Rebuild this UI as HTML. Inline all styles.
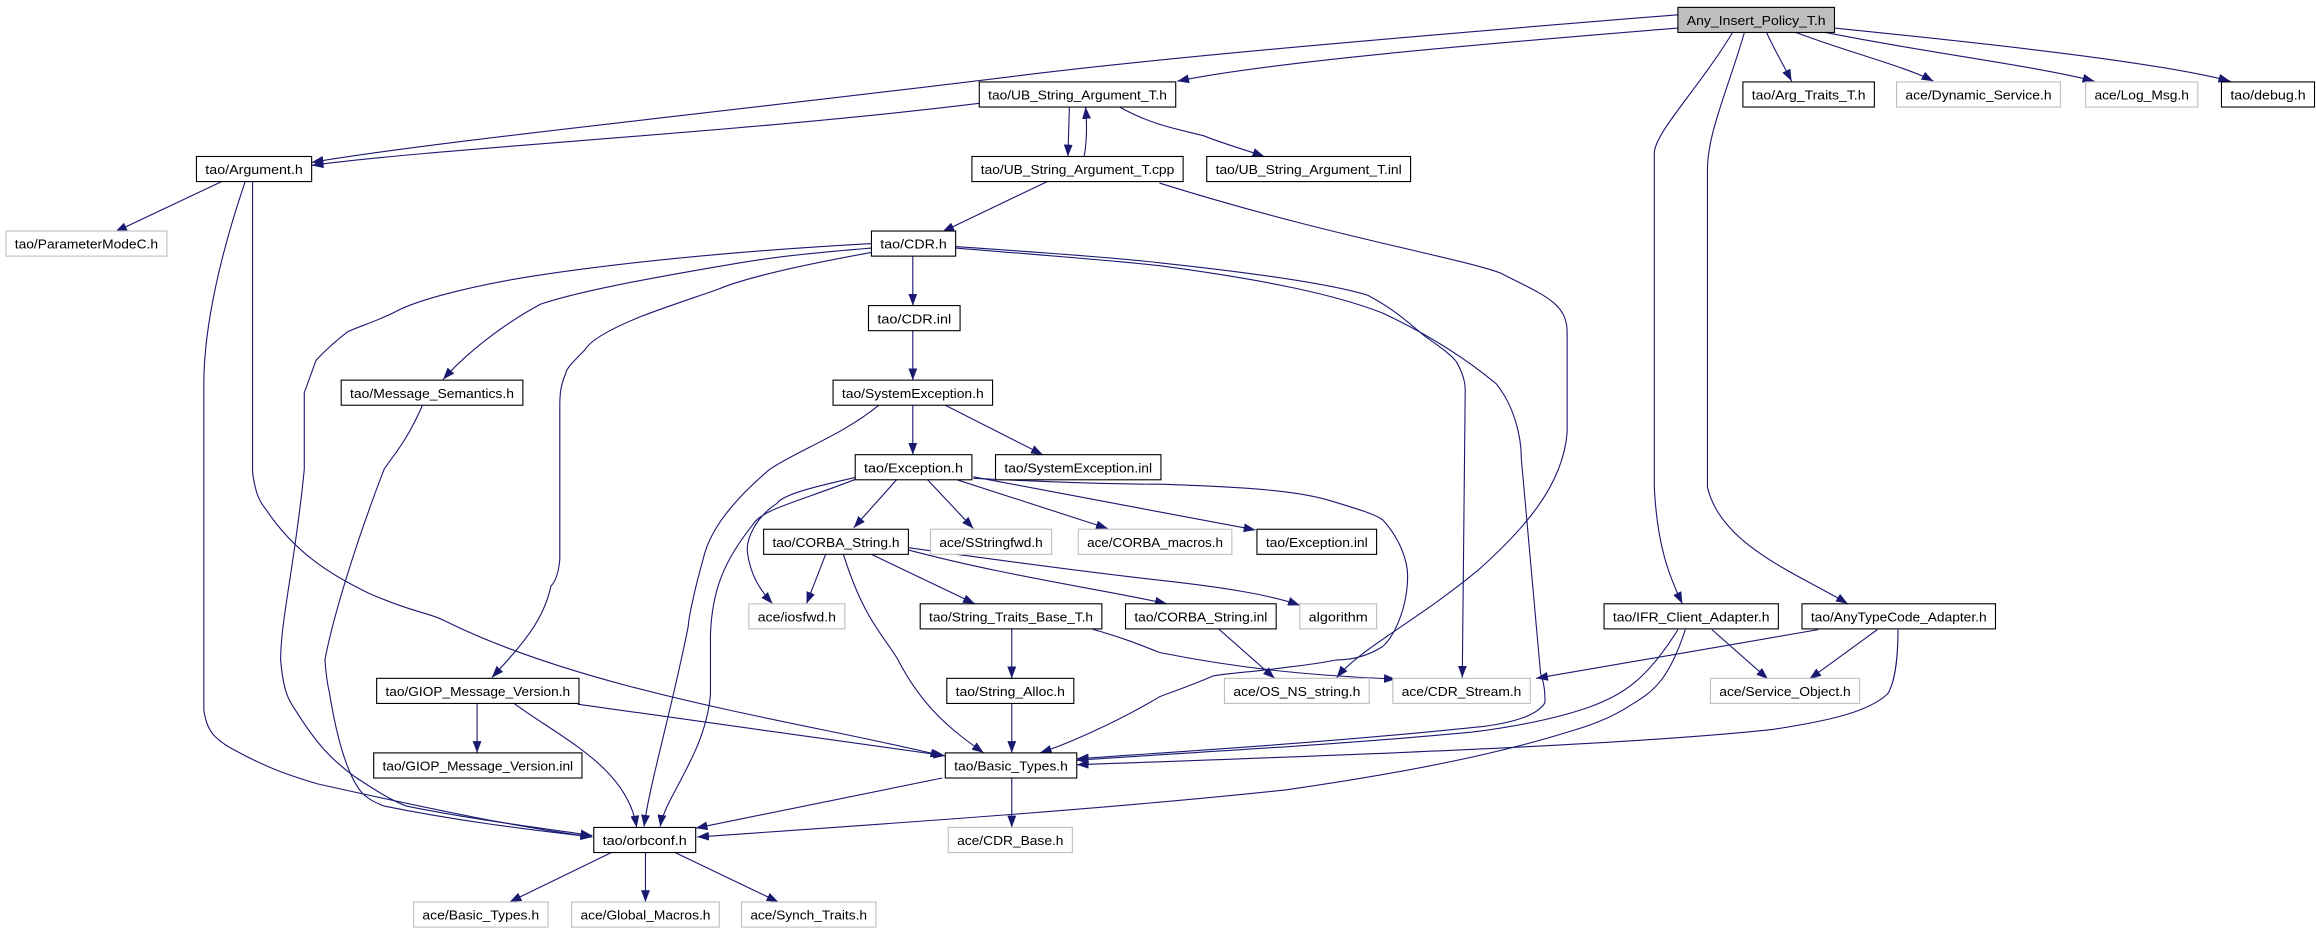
<!DOCTYPE html>
<html><head><meta charset="utf-8"><style>
html,body{margin:0;padding:0;background:#fff;}
svg{display:block;}
text{font-family:"Liberation Sans",sans-serif;font-size:9px;fill:#000;}
.e{fill:none;stroke:#191970;stroke-width:0.75;}
.n{fill:#fff;stroke:#000;stroke-width:0.75;}
.g{fill:#fff;stroke:#bfbfbf;stroke-width:0.75;}
</style></head><body>
<svg width="2316" height="933" viewBox="0 0 1568 632" preserveAspectRatio="none" xmlns="http://www.w3.org/2000/svg">
<defs><marker id="a" markerUnits="userSpaceOnUse" markerWidth="8" markerHeight="6" refX="8" refY="3" orient="auto"><path d="M0,0 L8,3 L0,6 z" fill="#191970"/></marker></defs>
<g class="e" marker-end="url(#a)">
<path d="M1136,10 C950,25 800,38 700,50 C500,75 300,95 211,110"/>
<path d="M663,70 C500,90 300,100 211,112"/>
<path d="M1136,19 C1000,30 860,42 797,55"/>
<path d="M1196,22 C1202,35 1208,45 1213,55"/>
<path d="M1216,22 C1250,35 1290,45 1309,55"/>
<path d="M1236,22 C1300,35 1380,45 1418,55"/>
<path d="M1242,19 C1350,30 1460,42 1510,55"/>
<path d="M1173,22 C1150,60 1120,90 1120,104 L1120,330 C1122,370 1130,390 1139,409"/>
<path d="M1181,22 C1170,60 1156,90 1156,115 L1156,330 C1165,370 1220,390 1251,409"/>
<path d="M724,72.5 L723,106"/>
<path d="M734,106 C736,95 736,85 735,72.5"/>
<path d="M758,72.5 C780,85 800,88 815,92 C830,98 845,102 856,106"/>
<path d="M709,123 L638,157"/>
<path d="M785,124 C900,160 990,175 1016,185 C1045,200 1061,205 1061,225 L1061,293 C1058,330 1030,360 1001,386 C960,420 920,440 905,459"/>
<path d="M150,123 L78,157"/>
<path d="M166,123 C150,170 138,220 138,260 L138,481 C140,495 145,500 155,506 C180,520 195,525 215,531 C300,550 350,560 401,567"/>
<path d="M171,123 L171,320 C173,335 176,340 180,345 C200,375 225,390 250,402 C280,415 290,415 300,420 C400,470 550,490 638,512"/>
<path d="M590,165 C500,170 420,178 361,187 C310,195 280,205 270,210 C255,218 240,222 235,225 C222,235 218,240 214,244 L206,266 L206,318 C200,380 190,420 190,447 C192,470 196,475 200,481 C215,505 225,515 240,526 C255,536 265,542 275,546 C320,555 360,560 401,566"/>
<path d="M590,168 C540,172 520,175 501,178 C430,190 390,198 366,206 C340,220 315,240 300,257"/>
<path d="M590,171 C540,180 505,188 486,196 C460,205 445,210 435,214 C415,222 400,230 396,237 C388,245 383,250 383,253 C380,260 379,265 379,275 L379,379 C378,390 375,395 373,397 C368,420 355,435 333,459"/>
<path d="M618,173.5 L618,207"/>
<path d="M647,167 C720,172 760,175 785,178 C850,185 900,192 926,200 C945,210 955,220 965,228 C975,235 982,240 986,245 C990,252 992,258 992,264 L990,459"/>
<path d="M647,168 C720,174 760,177 785,180 C860,190 905,200 936,212 C970,228 995,245 1013,260 C1025,275 1030,295 1030,311 L1043,456 C1046,465 1046,470 1046,476 C1040,486 1020,490 1005,492 C900,503 800,509 729,514"/>
<path d="M618,224 L618,257.5"/>
<path d="M286,274.5 C275,300 265,310 260,318 C240,370 225,420 220,447 C221,460 222,465 223,469 C228,500 235,525 245,537 C250,542 255,544 260,546 C310,556 350,561 401,567"/>
<path d="M595,274.5 C570,295 540,305 521,318 C495,340 480,360 476,379 C470,400 466,420 466,424 C455,480 440,530 436,560"/>
<path d="M618,274.5 L618,308"/>
<path d="M640,274.5 L706,308"/>
<path d="M607,325 L578,357.5"/>
<path d="M628,325 L659,358"/>
<path d="M648,325 L750,358"/>
<path d="M659,323 L850,359"/>
<path d="M581,323 C550,330 530,335 526,341 C512,350 505,365 506,374 C508,390 515,400 523,409"/>
<path d="M581,324 C540,340 516,345 510,355 C490,380 482,400 481,430 L481,470 C478,510 450,540 447,560"/>
<path d="M659,324 C720,327 760,328 785,328 C850,330 880,333 900,339 C920,345 930,348 936,352 C948,365 953,380 953,390 C953,410 945,430 936,438 C925,445 915,447 905,447 C890,450 880,451 871,452 C850,455 830,456 821,458 C805,465 795,468 785,472 C755,490 720,505 704,510"/>
<path d="M559,375.5 L546,409"/>
<path d="M590,375.5 L660,409"/>
<path d="M613,372 C680,390 750,400 790,409"/>
<path d="M615,371 C680,380 740,388 785,393 C830,398 860,403 880,410"/>
<path d="M571,375.5 C585,420 598,430 608,447 C625,480 645,495 666,510"/>
<path d="M685,426 L685,459.5"/>
<path d="M739,426 C760,432 770,436 785,442 C850,455 900,458 945,460"/>
<path d="M825,426 L863,459.5"/>
<path d="M685,476.5 L685,510"/>
<path d="M323,476.5 L323,510"/>
<path d="M348,476.5 C380,500 425,520 431,560.5"/>
<path d="M391,477 C480,490 560,500 640,512"/>
<path d="M638,527 L471,561"/>
<path d="M685,527 L685,560.5"/>
<path d="M414,577.5 L345,611"/>
<path d="M437,577.5 L437,611"/>
<path d="M457,577.5 L527,611"/>
<path d="M1159,426.5 L1197,460"/>
<path d="M1136,426.5 C1115,460 1100,470 1076,479 C1050,488 1020,493 996,496 C900,505 800,510 729,515"/>
<path d="M1141,426.5 C1130,460 1120,468 1105,477 C1090,487 1075,492 1061,496 C1000,515 920,528 871,535 C750,548 600,558 472,567"/>
<path d="M1231,426.5 L1040,459.5"/>
<path d="M1271,426.5 L1225,460"/>
<path d="M1285,426.5 C1285,445 1283,462 1278,470 C1265,482 1240,488 1201,494 C1100,505 900,512 729,518"/>
</g>
<g>
<rect x="1136" y="5" width="106" height="17" fill="#bfbfbf" stroke="#000" stroke-width="0.75"/><text x="1189" y="17" text-anchor="middle" textLength="94" lengthAdjust="spacingAndGlyphs">Any_Insert_Policy_T.h</text>
<rect class="n" x="663" y="55.5" width="133" height="17"/><text x="729.5" y="67.5" text-anchor="middle" textLength="121" lengthAdjust="spacingAndGlyphs">tao/UB_String_Argument_T.h</text>
<rect class="n" x="1180" y="55.5" width="89" height="17"/><text x="1224.5" y="67.5" text-anchor="middle" textLength="77" lengthAdjust="spacingAndGlyphs">tao/Arg_Traits_T.h</text>
<rect class="g" x="1284" y="55.5" width="111" height="17"/><text x="1339.5" y="67.5" text-anchor="middle" textLength="99" lengthAdjust="spacingAndGlyphs">ace/Dynamic_Service.h</text>
<rect class="g" x="1412" y="55.5" width="76" height="17"/><text x="1450" y="67.5" text-anchor="middle" textLength="64" lengthAdjust="spacingAndGlyphs">ace/Log_Msg.h</text>
<rect class="n" x="1504" y="55.5" width="63" height="17"/><text x="1535.5" y="67.5" text-anchor="middle" textLength="51" lengthAdjust="spacingAndGlyphs">tao/debug.h</text>
<rect class="n" x="133" y="106" width="78" height="17"/><text x="172" y="118" text-anchor="middle" textLength="66" lengthAdjust="spacingAndGlyphs">tao/Argument.h</text>
<rect class="n" x="658" y="106" width="143" height="17"/><text x="729.5" y="118" text-anchor="middle" textLength="131" lengthAdjust="spacingAndGlyphs">tao/UB_String_Argument_T.cpp</text>
<rect class="n" x="817" y="106" width="138" height="17"/><text x="886" y="118" text-anchor="middle" textLength="126" lengthAdjust="spacingAndGlyphs">tao/UB_String_Argument_T.inl</text>
<rect class="g" x="4" y="156.5" width="109" height="17"/><text x="58.5" y="168.5" text-anchor="middle" textLength="97" lengthAdjust="spacingAndGlyphs">tao/ParameterModeC.h</text>
<rect class="n" x="590" y="156.5" width="57" height="17"/><text x="618.5" y="168.5" text-anchor="middle" textLength="45" lengthAdjust="spacingAndGlyphs">tao/CDR.h</text>
<rect class="n" x="588" y="207" width="62" height="17"/><text x="619" y="219" text-anchor="middle" textLength="50" lengthAdjust="spacingAndGlyphs">tao/CDR.inl</text>
<rect class="n" x="231" y="257.5" width="123" height="17"/><text x="292.5" y="269.5" text-anchor="middle" textLength="111" lengthAdjust="spacingAndGlyphs">tao/Message_Semantics.h</text>
<rect class="n" x="564" y="257.5" width="108" height="17"/><text x="618" y="269.5" text-anchor="middle" textLength="96" lengthAdjust="spacingAndGlyphs">tao/SystemException.h</text>
<rect class="n" x="579" y="308" width="79" height="17"/><text x="618.5" y="320" text-anchor="middle" textLength="67" lengthAdjust="spacingAndGlyphs">tao/Exception.h</text>
<rect class="n" x="674" y="308" width="112" height="17"/><text x="730" y="320" text-anchor="middle" textLength="100" lengthAdjust="spacingAndGlyphs">tao/SystemException.inl</text>
<rect class="n" x="517" y="358.5" width="98" height="17"/><text x="566" y="370.5" text-anchor="middle" textLength="86" lengthAdjust="spacingAndGlyphs">tao/CORBA_String.h</text>
<rect class="g" x="630" y="358.5" width="82" height="17"/><text x="671" y="370.5" text-anchor="middle" textLength="70" lengthAdjust="spacingAndGlyphs">ace/SStringfwd.h</text>
<rect class="g" x="730" y="358.5" width="104" height="17"/><text x="782" y="370.5" text-anchor="middle" textLength="92" lengthAdjust="spacingAndGlyphs">ace/CORBA_macros.h</text>
<rect class="n" x="851" y="358.5" width="81" height="17"/><text x="891.5" y="370.5" text-anchor="middle" textLength="69" lengthAdjust="spacingAndGlyphs">tao/Exception.inl</text>
<rect class="g" x="507" y="409" width="65" height="17"/><text x="539.5" y="421" text-anchor="middle" textLength="53" lengthAdjust="spacingAndGlyphs">ace/iosfwd.h</text>
<rect class="n" x="623" y="409" width="123" height="17"/><text x="684.5" y="421" text-anchor="middle" textLength="111" lengthAdjust="spacingAndGlyphs">tao/String_Traits_Base_T.h</text>
<rect class="n" x="762" y="409" width="102" height="17"/><text x="813" y="421" text-anchor="middle" textLength="90" lengthAdjust="spacingAndGlyphs">tao/CORBA_String.inl</text>
<rect class="g" x="880" y="409" width="52" height="17"/><text x="906" y="421" text-anchor="middle" textLength="40" lengthAdjust="spacingAndGlyphs">algorithm</text>
<rect class="n" x="1086" y="409" width="118" height="17"/><text x="1145" y="421" text-anchor="middle" textLength="106" lengthAdjust="spacingAndGlyphs">tao/IFR_Client_Adapter.h</text>
<rect class="n" x="1220" y="409" width="131" height="17"/><text x="1285.5" y="421" text-anchor="middle" textLength="119" lengthAdjust="spacingAndGlyphs">tao/AnyTypeCode_Adapter.h</text>
<rect class="n" x="255" y="459.5" width="137" height="17"/><text x="323.5" y="471.5" text-anchor="middle" textLength="125" lengthAdjust="spacingAndGlyphs">tao/GIOP_Message_Version.h</text>
<rect class="n" x="641" y="459.5" width="86" height="17"/><text x="684" y="471.5" text-anchor="middle" textLength="74" lengthAdjust="spacingAndGlyphs">tao/String_Alloc.h</text>
<rect class="g" x="829" y="459.5" width="98" height="17"/><text x="878" y="471.5" text-anchor="middle" textLength="86" lengthAdjust="spacingAndGlyphs">ace/OS_NS_string.h</text>
<rect class="g" x="943" y="459.5" width="93" height="17"/><text x="989.5" y="471.5" text-anchor="middle" textLength="81" lengthAdjust="spacingAndGlyphs">ace/CDR_Stream.h</text>
<rect class="g" x="1158" y="459.5" width="101" height="17"/><text x="1208.5" y="471.5" text-anchor="middle" textLength="89" lengthAdjust="spacingAndGlyphs">ace/Service_Object.h</text>
<rect class="n" x="253" y="510" width="141" height="17"/><text x="323.5" y="522" text-anchor="middle" textLength="129" lengthAdjust="spacingAndGlyphs">tao/GIOP_Message_Version.inl</text>
<rect class="n" x="640" y="510" width="89" height="17"/><text x="684.5" y="522" text-anchor="middle" textLength="77" lengthAdjust="spacingAndGlyphs">tao/Basic_Types.h</text>
<rect class="n" x="402" y="560.5" width="69" height="17"/><text x="436.5" y="572.5" text-anchor="middle" textLength="57" lengthAdjust="spacingAndGlyphs">tao/orbconf.h</text>
<rect class="g" x="642" y="560.5" width="84" height="17"/><text x="684" y="572.5" text-anchor="middle" textLength="72" lengthAdjust="spacingAndGlyphs">ace/CDR_Base.h</text>
<rect class="g" x="280" y="611" width="91" height="17"/><text x="325.5" y="623" text-anchor="middle" textLength="79" lengthAdjust="spacingAndGlyphs">ace/Basic_Types.h</text>
<rect class="g" x="387" y="611" width="100" height="17"/><text x="437" y="623" text-anchor="middle" textLength="88" lengthAdjust="spacingAndGlyphs">ace/Global_Macros.h</text>
<rect class="g" x="502" y="611" width="91" height="17"/><text x="547.5" y="623" text-anchor="middle" textLength="79" lengthAdjust="spacingAndGlyphs">ace/Synch_Traits.h</text>
</g>
</svg>
</body></html>
